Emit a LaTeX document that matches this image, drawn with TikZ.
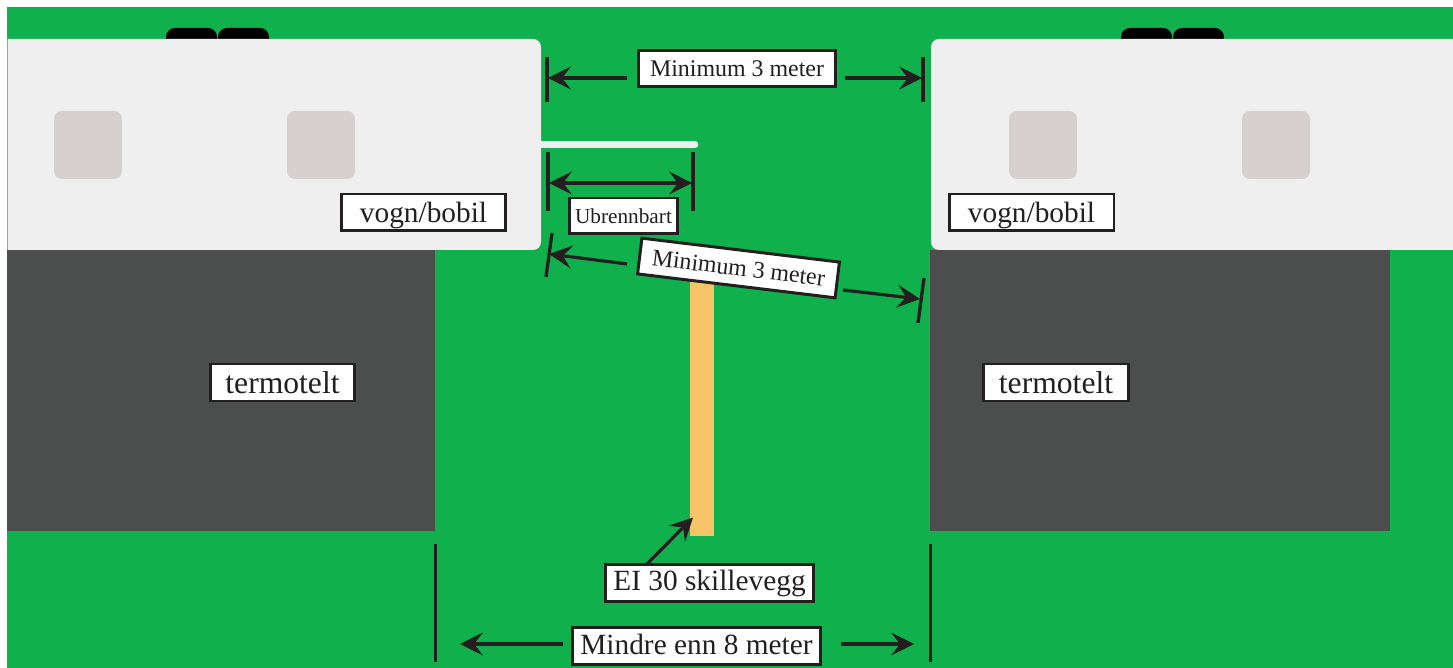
\documentclass[tikz,border=0pt]{standalone}
\usepackage{fontspec}
\setmainfont{Liberation Serif}
\usetikzlibrary{arrows.meta}
\definecolor{grass}{HTML}{10B14D}
\definecolor{vanwhite}{HTML}{EFEFEF}
\definecolor{vanwindow}{HTML}{D6D1CE}
\definecolor{tentgrey}{HTML}{4C4E4D}
\definecolor{wallorange}{HTML}{F6C567}
\definecolor{ink}{HTML}{231F20}
\tikzset{
	tag/.style={draw=ink, fill=white, text=ink, line width=1.7pt, inner sep=0pt, anchor=center},
	tickmark/.style={draw=ink, line width=1.9pt},
	headtip/.tip={Stealth[length=13pt,width=13pt,inset=5pt]},
	dimarrow/.style={draw=ink, line width=1.8pt, -headtip},
}

\begin{document}
\begin{tikzpicture}[x=0.02cm, y=-0.02cm]
	\useasboundingbox (0, 0) rectangle (1453, 668);
	%%%%% GROUND %%%%%
	\fill[grass] (7, 7) rectangle (1453, 668);
	
	%%%%% TENTS %%%%%
	\fill[tentgrey] (7, 250) rectangle (435, 531);
	\fill[tentgrey] (930, 250) rectangle (1390, 531);
	
	%%%%% VANS %%%%%
	\foreach \x in {166, 218, 1121, 1173}
		\fill[black, rounded corners=0.18cm] (\x, 28) rectangle ({\x+51}, 60);
	\fill[vanwhite] (7.7, 39) [rounded corners=0.16cm] -- (541, 39) -- (541, 250) [sharp corners] -- (7.7, 250) -- cycle;
	\fill[vanwhite] (1453, 39) [rounded corners=0.16cm] -- (931, 39) -- (931, 250) [sharp corners] -- (1453, 250) -- cycle;
	\foreach \x in {54, 287, 1009, 1242}
		\fill[vanwindow, rounded corners=0.16cm] (\x, 111) rectangle ({\x+68}, 179);
	
	%%%%% WALLS %%%%%
	\fill[wallorange] (690, 270) rectangle (714, 536);
	\draw[vanwhite, line width=3.9pt, line cap=round] (541, 144.5) -- (695, 144.5);
	
	%%%%% LABELS %%%%%
	\node[tag, minimum width=3.3cm, minimum height=0.74cm, text depth=0pt, font=\fontsize{16.7}{20}\selectfont] (vanleft) at (423.5, 212.5) {vogn/bobil};
	\node[tag, minimum width=3.3cm, minimum height=0.74cm, text depth=0pt, font=\fontsize{16.7}{20}\selectfont] (vanright) at (1031.5, 212.5) {vogn/bobil};
	\node[tag, minimum width=2.9cm, minimum height=0.74cm, font=\fontsize{18}{20}\selectfont] (tentleft) at (282.5, 382.5) {termotelt};
	\node[tag, minimum width=2.9cm, minimum height=0.74cm, font=\fontsize{18}{20}\selectfont] (tentright) at (1056, 382.5) {termotelt};
	\node[tag, minimum width=3.96cm, minimum height=0.72cm, font=\fontsize{13.6}{16}\selectfont] (mintop) at (737, 68.5) {Minimum 3 meter};
	\node[tag, minimum width=2.16cm, minimum height=0.72cm, font=\fontsize{12.1}{14}\selectfont] (fireproof) at (623.5, 216) {Ubrennbart};
	\node[tag, minimum width=3.98cm, minimum height=0.72cm, rotate=-6.9, font=\fontsize{13.6}{16}\selectfont] (minslant) at (738.5, 268) {Minimum 3 meter};
	\node[tag, minimum width=4.18cm, minimum height=0.74cm, font=\fontsize{16.7}{20}\selectfont] (divider) at (709.5, 583) {EI 30 skillevegg};
	\node[tag, minimum width=4.96cm, minimum height=0.74cm, text depth=0.14em, font=\fontsize{16.7}{20}\selectfont] (gap) at (696.5, 646) {Mindre enn 8 meter};
	
	%%%%% TICKS %%%%%
	\coordinate (topa) at (547, 57);
	\coordinate (topb) at (547, 102);
	\coordinate (topc) at (923, 57);
	\coordinate (topd) at (923, 102);
	\draw[tickmark] (topa) -- (topb);
	\draw[tickmark] (topc) -- (topd);
	
	\coordinate (firea) at (548, 152);
	\coordinate (fireb) at (548, 211);
	\coordinate (firec) at (693, 152);
	\coordinate (fired) at (693, 211);
	\draw[tickmark] (firea) -- (fireb);
	\draw[tickmark] (firec) -- (fired);
	
	\coordinate (slanta) at (552, 233);
	\coordinate (slantb) at (546, 277);
	\coordinate (slantc) at (924, 278);
	\coordinate (slantd) at (918, 323);
	\draw[tickmark] (slanta) -- (slantb);
	\draw[tickmark] (slantc) -- (slantd);
	
	\coordinate (gapa) at (435.5, 544);
	\coordinate (gapb) at (435.5, 662);
	\coordinate (gapc) at (930.5, 544);
	\coordinate (gapd) at (930.5, 662);
	\draw[tickmark] (gapa) -- (gapb);
	\draw[tickmark] (gapc) -- (gapd);
	
	%%%%% ARROWS %%%%%
	\coordinate (topl) at (548, 78);
	\coordinate (topr) at (922, 78);
	\draw[dimarrow, shorten <=0.2cm] (mintop.west |- topl) -- (topl);
	\draw[dimarrow, shorten <=0.16cm] (mintop.east |- topr) -- (topr);
	
	\coordinate (firel) at (549, 183);
	\coordinate (firer) at (692, 183);
	\draw[dimarrow, headtip-headtip] (firel) -- (firer);
	
	\coordinate (slantl) at (549, 254);
	\coordinate (slantr) at (920, 299);
	\coordinate (slantls) at (627, 264);
	\coordinate (slantrs) at (843, 290);
	\draw[dimarrow] (slantls) -- (slantl);
	\draw[dimarrow] (slantrs) -- (slantr);
	
	\coordinate (gapl) at (460, 644);
	\coordinate (gapr) at (914, 644);
	\draw[dimarrow, shorten <=0.16cm] (gap.west |- gapl) -- (gapl);
	\draw[dimarrow, shorten <=0.38cm] (gap.east |- gapr) -- (gapr);
	
	\coordinate (wallpoint) at (693, 517.5);
	\coordinate (dividerstart) at (647, 564);
	\draw[dimarrow] (dividerstart) -- (wallpoint);
\end{tikzpicture}
\end{document}
